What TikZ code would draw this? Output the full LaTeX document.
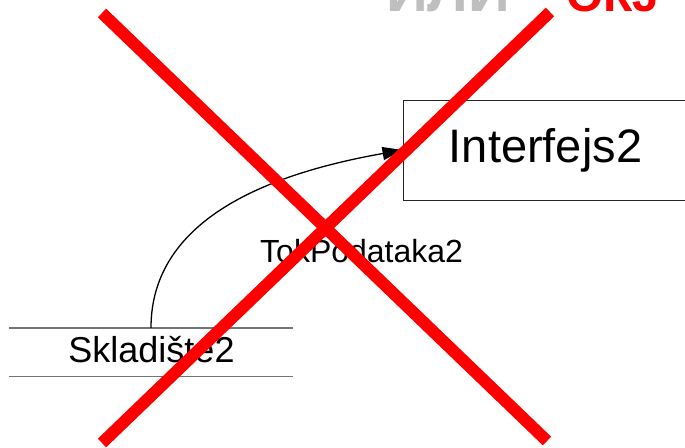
\documentclass[tikz,border=0pt]{standalone}
\usepackage{fontspec}
\setmainfont{Liberation Sans}
\usetikzlibrary{arrows.meta}
\begin{document}
\begin{tikzpicture}[x=1pt,y=-1pt,
  ifacebox/.style={draw=black!85,line width=1pt,minimum width=285pt,minimum height=100pt,inner sep=0pt,font=\fontsize{47}{50}\selectfont},
  storebox/.style={minimum width=284pt,minimum height=48pt,inner sep=0pt},
  storeline/.style={draw=black!55,line width=1.4pt},
  flow/.style={draw=black,line width=1.3pt,-{Triangle[length=20pt,width=13pt]}},
  flowlabel/.style={font=\fontsize{32}{34}\selectfont,anchor=base west,inner sep=0pt},
  cross/.style={draw=red,line width=12pt,line cap=butt},
  titlegray/.style={font=\fontsize{58}{60}\selectfont\bfseries,text=black!25,anchor=base west,inner sep=0pt},
  titlered/.style={font=\fontsize{48}{50}\selectfont\bfseries,text=red,anchor=base west,inner sep=0pt}]
\useasboundingbox (0,0) rectangle (685,447);
\clip (0,0) rectangle (685,447);
% title fragments
\node[titlegray] (tg) at (386,11) {ИЛИ};
\node[titlered] (tr) at (566,11) {ОКЈ};
% interface box
\node[ifacebox] (iface) at (545.5,150) {Interfejs2};
% data store
\node[storebox] (store) at (151,352) {};
\draw[storeline] (store.north west) -- (store.north east);
\draw[storeline] (store.south west) -- (store.south east);
\node[font=\fontsize{36}{38}\selectfont,anchor=base,inner sep=0pt] (storelbl) at (151.5,362) {Skladište2};
% data flow
\draw[flow] (store.north) .. controls (151,210) and (290,170) .. (iface.west);
\node[flowlabel] (flbl) at (260,262) {TokPodataka2};
% red cross
\coordinate (c1a) at (102,13);
\coordinate (c1b) at (547,441);
\coordinate (c2a) at (102,443);
\coordinate (c2b) at (550,12);
\draw[cross] (c1a) -- (c1b);
\draw[cross] (c2a) -- (c2b);
\end{tikzpicture}
\end{document}
